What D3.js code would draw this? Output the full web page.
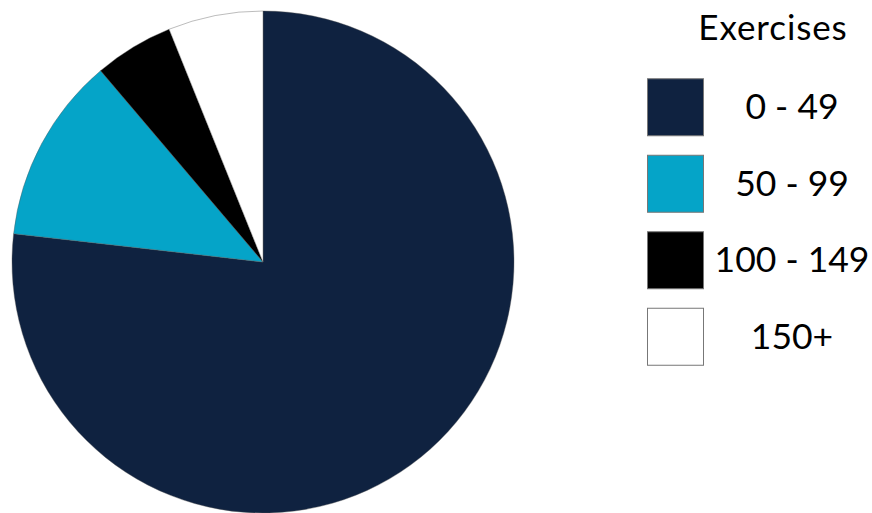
<!DOCTYPE html>
<html>
<head>
<meta charset="utf-8">
<script src="https://cdn.jsdelivr.net/npm/d3@7"></script>
<style>
  body { margin: 0; background: #fff; }
  svg { display: block; font-family: Lato, "Open Sans", sans-serif; }
</style>
</head>
<body>
<svg id="chart" width="872" height="513"></svg>
<script>
// shares of each bucket (percent)
var categories = ["0 - 49", "50 - 99", "100 - 149", "150+"];
var shares = [76.8, 12.0, 5.1, 6.1];
var colors = ["#0f2240", "#05a4c8", "#000000", "#ffffff"];
var legendTitle = "Exercises";

var svg = d3.select("#chart");

var data = categories.map(function(c, i) { return {label: c, value: shares[i]}; });

var pie = d3.pie()
    .sort(null)
    .value(function(d) { return d.value; });

var radius = 251;
var arc = d3.arc().innerRadius(0).outerRadius(radius);

var color = d3.scaleOrdinal().domain(categories).range(colors);

var g = svg.append("g")
    .attr("transform", "translate(263,262)");

g.selectAll("path")
  .data(pie(data))
  .enter().append("path")
    .attr("d", arc)
    .attr("fill", function(d) { return color(d.data.label); })
    .attr("stroke", "#555")
    .attr("stroke-width", 0.4);

// legend
var legend = svg.append("g").attr("transform", "translate(647,0)");

legend.append("text")
    .attr("x", 126)
    .attr("y", 40)
    .attr("text-anchor", "middle")
    .attr("font-size", 35)
    .attr("letter-spacing", 0.9)
    .attr("fill", "#000")
    .text(legendTitle);

var y = d3.scaleBand().domain(categories).range([69, 375]);

var item = legend.selectAll("g.item")
  .data(categories)
  .enter().append("g")
    .attr("class", "item")
    .attr("transform", function(d) { return "translate(0," + (y(d) + y.bandwidth() / 2) + ")"; });

item.append("rect")
    .attr("x", 0.5)
    .attr("y", -28.5)
    .attr("width", 56)
    .attr("height", 57)
    .attr("fill", function(d) { return color(d); })
    .attr("stroke", "#777")
    .attr("stroke-width", 1);

item.append("text")
    .attr("x", 145)
    .attr("y", 12)
    .attr("text-anchor", "middle")
    .attr("font-size", 35.5)
    .attr("fill", "#000")
    .text(function(d) { return d; });
</script>
</body>
</html>
